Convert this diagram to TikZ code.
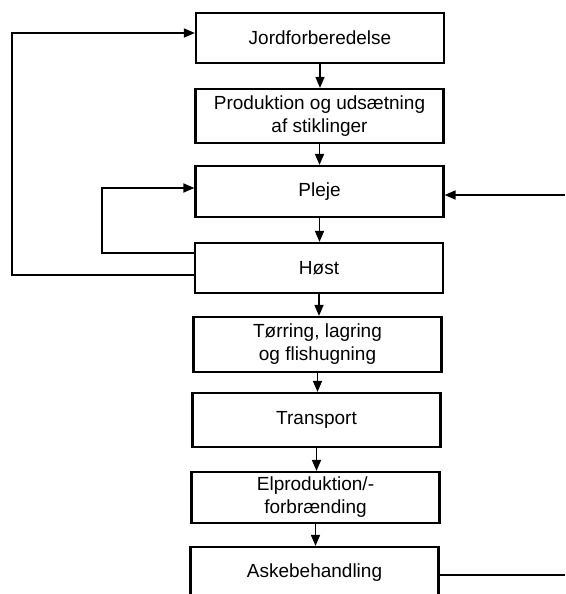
\documentclass[tikz,border=0pt]{standalone}
\usepackage{fontspec}
\setmainfont{Liberation Sans}
\usetikzlibrary{arrows.meta}
\begin{document}
\begin{tikzpicture}[x=1pt,y=-1pt,
  stepbox/.style={draw,line width=2.2pt,minimum width=248pt,inner sep=0pt,
    align=center,font=\fontsize{19}{23}\selectfont},
  flow/.style={line width=1.6pt,-{Triangle[length=11pt,width=9pt]}},
  plain/.style={line width=1.6pt}]
\useasboundingbox (0,0) rectangle (565,594);
% process chain
\node[stepbox,minimum height=50pt] (jord)  at (320,38)    {Jordforberedelse};
\node[stepbox,minimum height=54pt] (prod)  at (319.5,116) {Produktion og udsætning\\af stiklinger};
\node[stepbox,minimum height=51pt] (pleje) at (319.5,191.5) {Pleje};
\node[stepbox,minimum height=50pt] (host)  at (319,268)   {Høst};
\node[stepbox,minimum height=55pt] (torr)  at (317.5,344.5) {Tørring, lagring\\og flishugning};
\node[stepbox,minimum height=54pt] (trans) at (316.5,420) {Transport};
\node[stepbox,minimum height=51pt] (elp)   at (315.5,497.5) {Elproduktion/-\\forbrænding};
\node[stepbox,minimum height=52pt] (aske)  at (314.5,573) {Askebehandling};
% downward arrows
\draw[flow] (jord.south)  -- (jord.south  |- prod.north);
\draw[flow] (prod.south)  -- (prod.south  |- pleje.north);
\draw[flow] (pleje.south) -- (pleje.south |- host.north);
\draw[flow] (host.south)  -- (host.south  |- torr.north);
\draw[flow] (torr.south)  -- (torr.south  |- trans.north);
\draw[flow] (trans.south) -- (trans.south |- elp.north);
\draw[flow] (elp.south)   -- (elp.south   |- aske.north);
% feedback loops
\coordinate (hin)  at (host.west |- 0,253);
\coordinate (hout) at (host.west |- 0,275);
\coordinate (pin)  at (pleje.west |- 0,188);
\coordinate (jin)  at (jord.west |- 0,33);
\draw[flow] (hin) -- (102,253) -- (102,188) -- (pin);
\draw[flow] (hout) -- (12,275) -- (12,33) -- (jin);
% external input and output
\coordinate (ein)  at (565,195);
\coordinate (eout) at (565,575);
\draw[flow] (ein) -- (pleje.east |- ein);
\draw[plain] (aske.east |- eout) -- (eout);
\end{tikzpicture}
\end{document}
